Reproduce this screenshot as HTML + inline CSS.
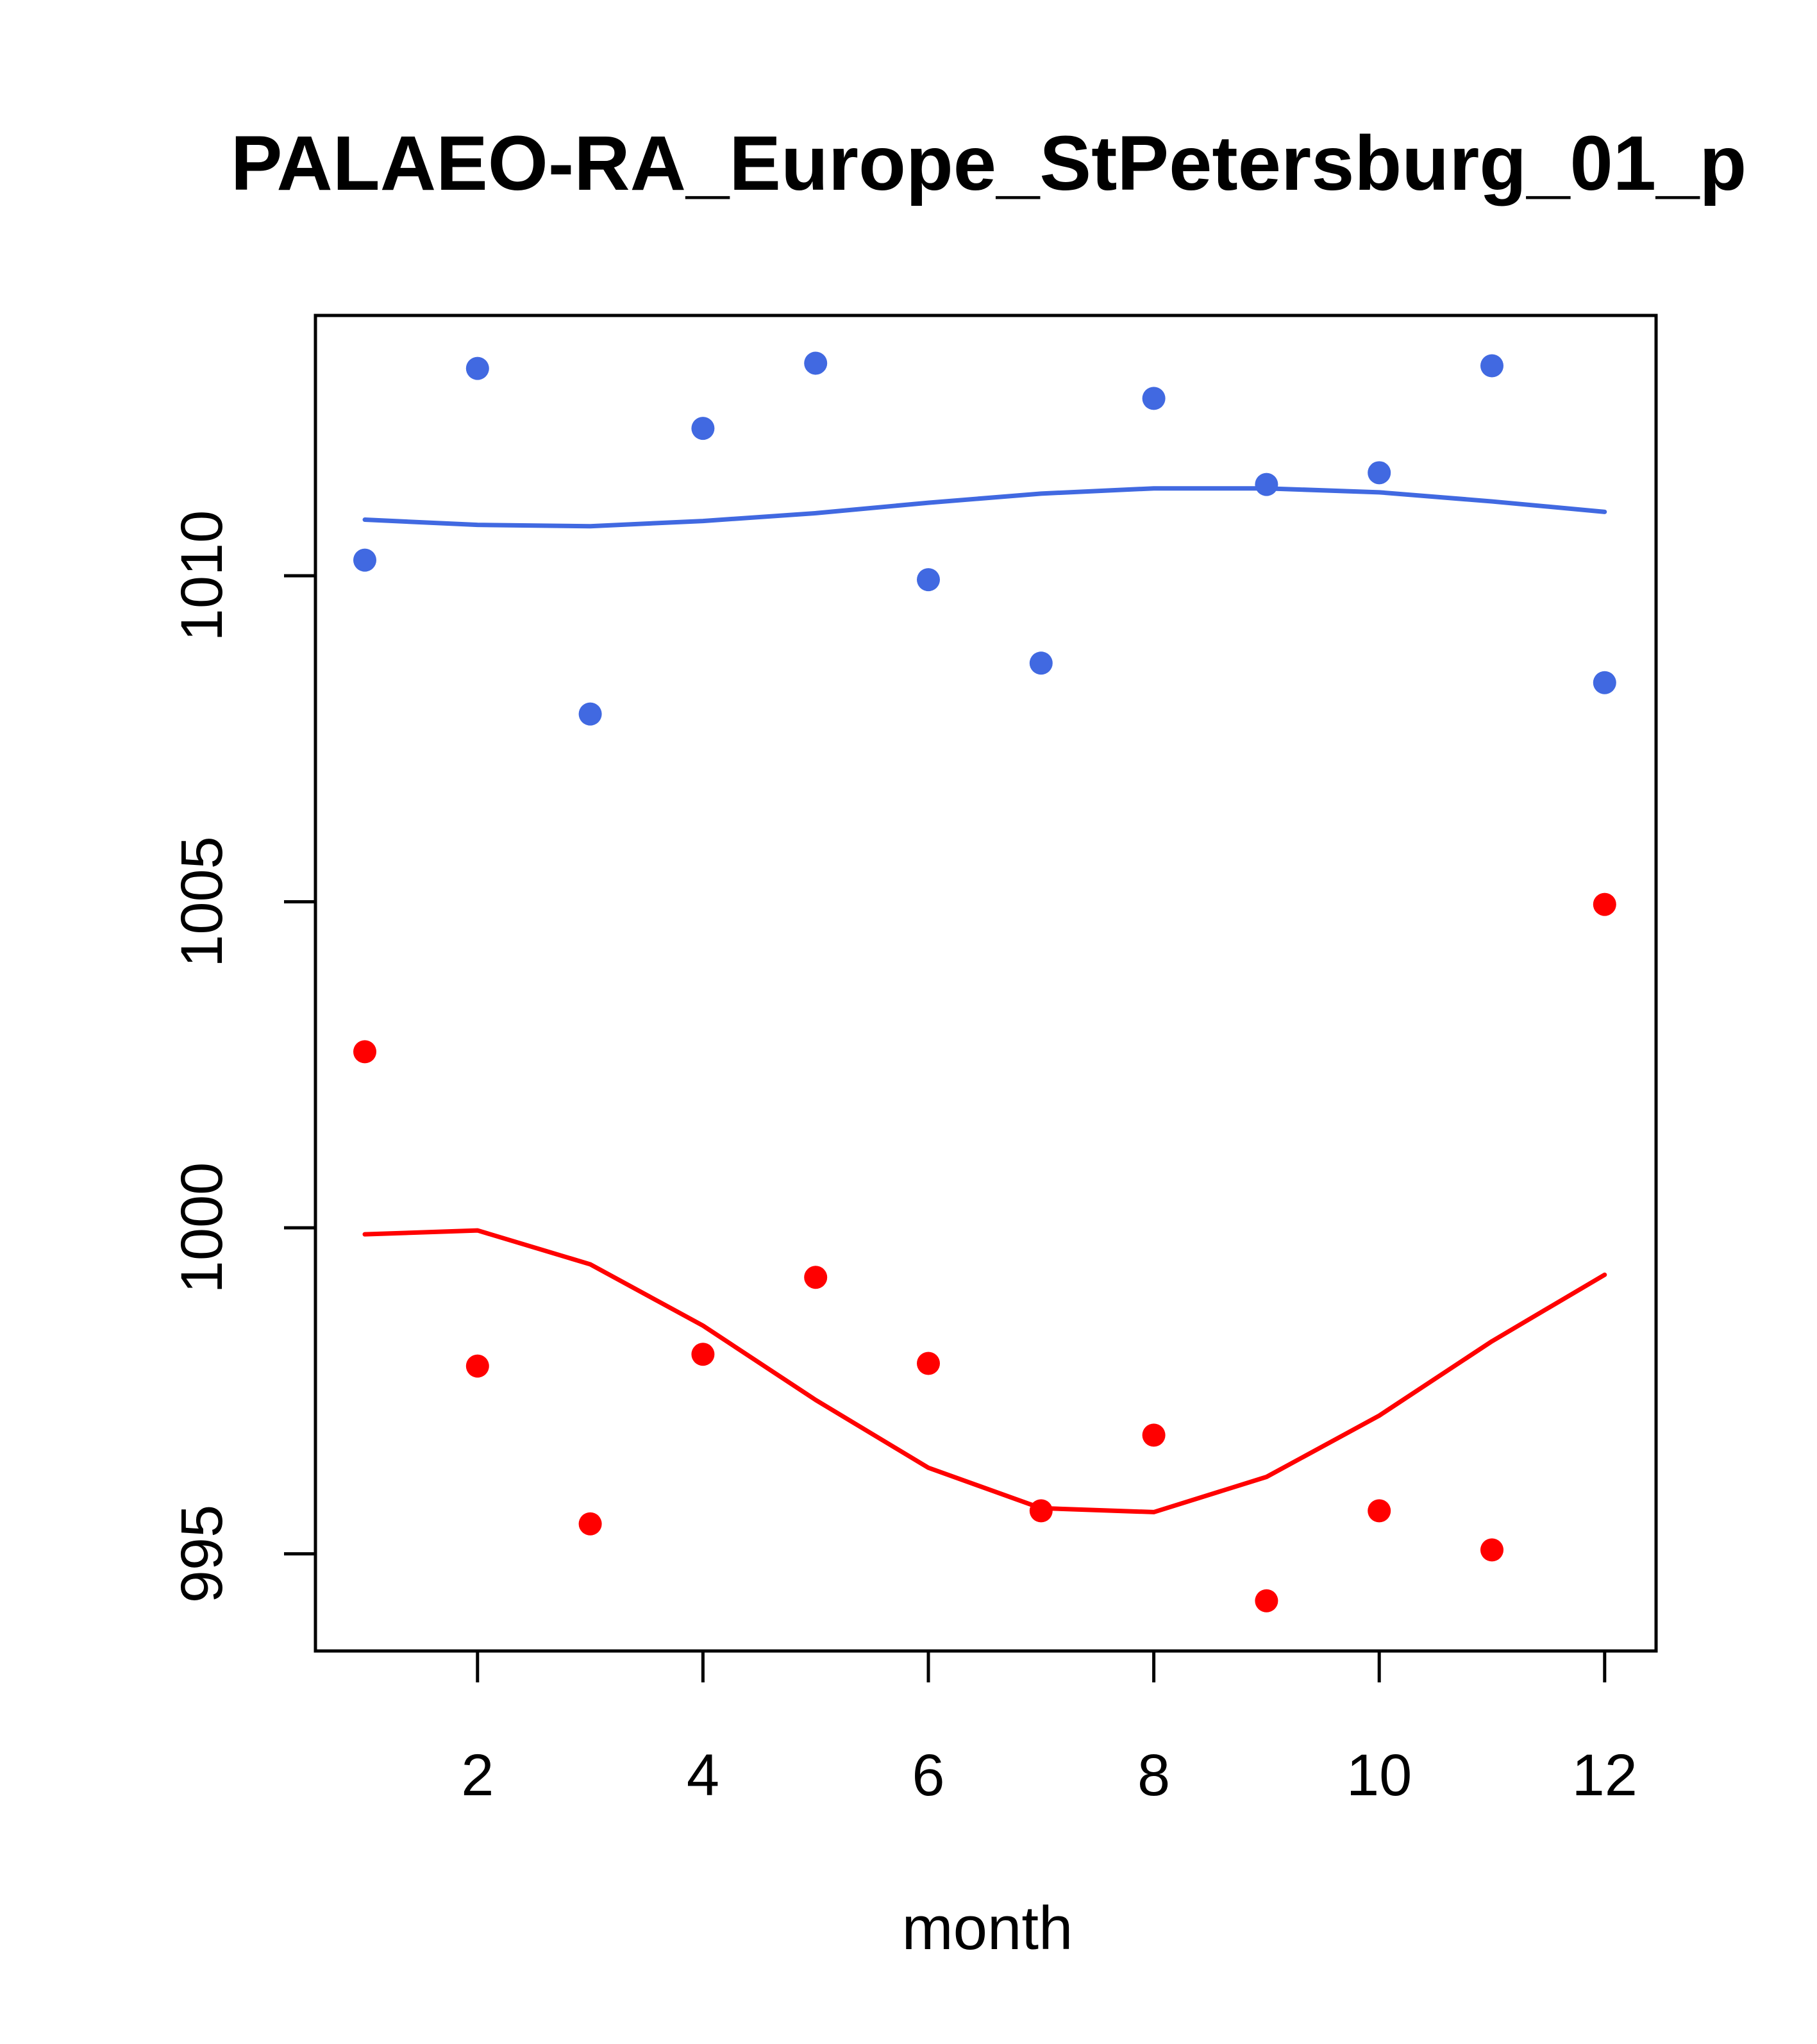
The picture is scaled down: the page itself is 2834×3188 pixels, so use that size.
<!DOCTYPE html>
<html><head><meta charset="utf-8"><style>body{margin:0;background:#fff}svg{display:block}text{font-family:"Liberation Sans",sans-serif}</style></head>
<body>
<svg id="chart" width="2834" height="3188" xmlns="http://www.w3.org/2000/svg">
<text x="1542" y="296" font-size="121" font-weight="bold" text-anchor="middle">PALAEO-RA_Europe_StPetersburg_01_p</text>
<rect x="492" y="492" width="2091" height="2083" fill="none" stroke="#000" stroke-width="5"/>
<text x="1540" y="3040" font-size="96" text-anchor="middle">month</text>
<g id="axes"></g><g id="series"></g>
</svg>
<script>
const months=[1,2,3,4,5,6,7,8,9,10,11,12];
const bluePoints=[1010.24,1013.18,1007.88,1012.26,1013.26,1009.94,1008.66,1012.72,1011.4,1011.58,1013.22,1008.36];
const blueLine=[1010.86,1010.78,1010.76,1010.84,1010.96,1011.12,1011.26,1011.34,1011.34,1011.28,1011.14,1010.98];
const redPoints=[1002.7,997.88,995.46,998.06,999.24,997.92,995.66,996.82,994.28,995.66,995.06,1004.96];
const redLine=[999.9,999.96,999.44,998.5,997.36,996.32,995.7,995.64,996.18,997.12,998.26,999.28];
const xTicks=[2,4,6,8,10,12];
const yTicks=[995,1000,1005,1010];
const NS="http://www.w3.org/2000/svg";
const xs=m=>569+(m-1)*175.8;
const ys=v=>898-(v-1010)*101.7;
function mk(t,a,p){const e=document.createElementNS(NS,t);for(const k in a)e.setAttribute(k,a[k]);p.appendChild(e);return e;}
const ax=document.getElementById('axes'),se=document.getElementById('series');
xTicks.forEach(t=>{
 const l=mk('line',{x1:xs(t),x2:xs(t),y1:2575,y2:2624,stroke:'#000','stroke-width':5},ax);
 
 
 const tx=mk('text',{x:xs(t),y:2800,'font-size':92,'text-anchor':'middle'},ax);tx.textContent=t;
 
 
});
yTicks.forEach(t=>{
 const l=mk('line',{x1:443,x2:492,y1:ys(t),y2:ys(t),stroke:'#000','stroke-width':5},ax);
 
 
 const tx=mk('text',{x:0,y:0,'font-size':92,'text-anchor':'middle',transform:`translate(346,${ys(t)}) rotate(-90)`},ax);tx.textContent=t;
 
 
});
function line(vals,col,name){
 const p=mk('polyline',{points:vals.map((v,i)=>xs(months[i])+','+ys(v)).join(' '),fill:'none',stroke:col,'stroke-width':7,'stroke-linecap':'round','stroke-linejoin':'round'},se);
 
 
}
function pts(vals,col,name){
 vals.forEach((v,i)=>{const c=mk('circle',{cx:xs(months[i]),cy:ys(v),r:18,fill:col},se);
 
 });
}
line(blueLine,'#4169e1','blue-line');
line(redLine,'#ff0000','red-line');
pts(bluePoints,'#4169e1','blue-point');
pts(redPoints,'#ff0000','red-point');
</script>
</body></html>
